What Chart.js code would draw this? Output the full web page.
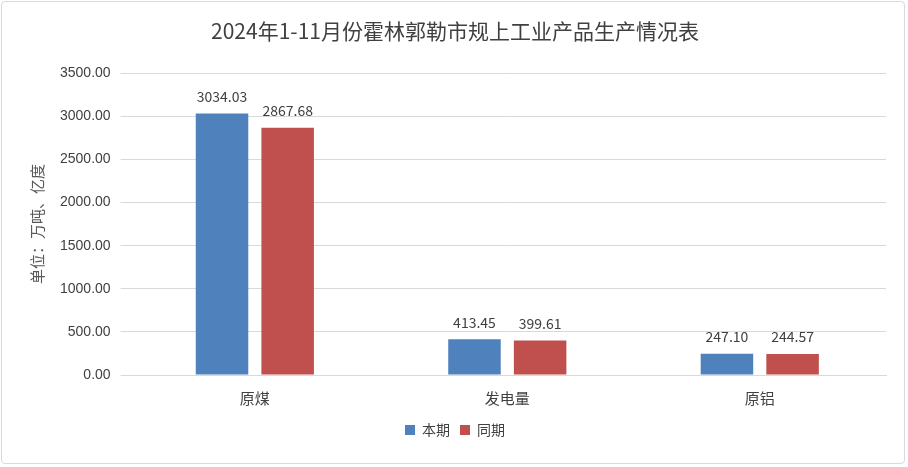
<!DOCTYPE html>
<html>
<head>
<meta charset="utf-8">
<script src="https://cdn.jsdelivr.net/npm/chart.js@4"></script>
<style>
  html, body { margin: 0; padding: 0; background: #fff; }
  #wrap { position: absolute; left: 1px; top: 1px; width: 904px; height: 463px; border: 1px solid #d9d9d9; border-radius: 4px; box-sizing: border-box; }
</style>
</head>
<body>
<div id="wrap"><canvas id="chart"></canvas></div>
<script>
const categories = [ '原煤', '发电量', '原铝' ]
const currentValues = [ 3034.03, 413.45, 247.10 ]
const lastYearValues = [ 2867.68, 399.61, 244.57 ]
const seriesNames = [ '本期', '同期' ]
const fontFamily = "'Noto Sans CJK SC', 'Noto Sans', sans-serif"

// labels over each bar
const barLabels = {
    id: 'barLabels',
    afterDatasetsDraw ( chart ) {
        const ctx = chart.ctx
        ctx.save()
        ctx.font = '14px ' + fontFamily
        ctx.fillStyle = '#404040'
        ctx.textAlign = 'center'
        ctx.textBaseline = 'bottom'
        chart.data.datasets.forEach( ( ds, i ) => {
            chart.getDatasetMeta( i ).data.forEach( ( bar, j ) => {
                ctx.fillText( ds.data[ j ].toFixed( 2 ), bar.x, bar.y - 10 )
            } )
        } )
        ctx.restore()
    }
}

const ctx = document.getElementById( 'chart' ).getContext( '2d' )
new Chart( ctx, {
    type: 'bar',
    data: {
        labels: categories,
        datasets: [
            { label: seriesNames[ 0 ], data: currentValues, backgroundColor: '#4F81BD' },
            { label: seriesNames[ 1 ], data: lastYearValues, backgroundColor: '#C0504D' }
        ]
    },
    options: {
        responsive: true,
        maintainAspectRatio: false,
        animation: false,
        categoryPercentage: 0.52,
        barPercentage: 0.8,
        layout: { padding: { left: 22, right: 18, top: 2, bottom: 16 } },
        plugins: {
            title: {
                display: true,
                text: '2024年1-11月份霍林郭勒市规上工业产品生产情况表',
                color: '#404040',
                font: { family: fontFamily, size: 21, weight: 'normal' },
                padding: { top: 14, bottom: 30 }
            },
            legend: {
                position: 'bottom',
                labels: {
                    boxWidth: 10, boxHeight: 10, padding: 10,
                    color: '#404040',
                    font: { family: fontFamily, size: 14 }
                }
            },
            tooltip: { enabled: false }
        },
        scales: {
            x: {
                grid: { display: false },
                border: { color: '#d9d9d9' },
                ticks: { color: '#404040', font: { family: fontFamily, size: 15 }, padding: 6 }
            },
            y: {
                min: 0, max: 3500,
                ticks: {
                    stepSize: 500, color: '#404040', padding: 10,
                    font: { family: "'Liberation Sans', sans-serif", size: 14 },
                    callback: v => v.toFixed( 2 )
                },
                grid: { color: '#d9d9d9' },
                border: { display: false },
                title: {
                    display: true, text: '单位：万吨、亿度', color: '#595959',
                    font: { family: fontFamily, size: 15 }
                }
            }
        }
    },
    plugins: [ barLabels ]
} )
</script>
</body>
</html>
